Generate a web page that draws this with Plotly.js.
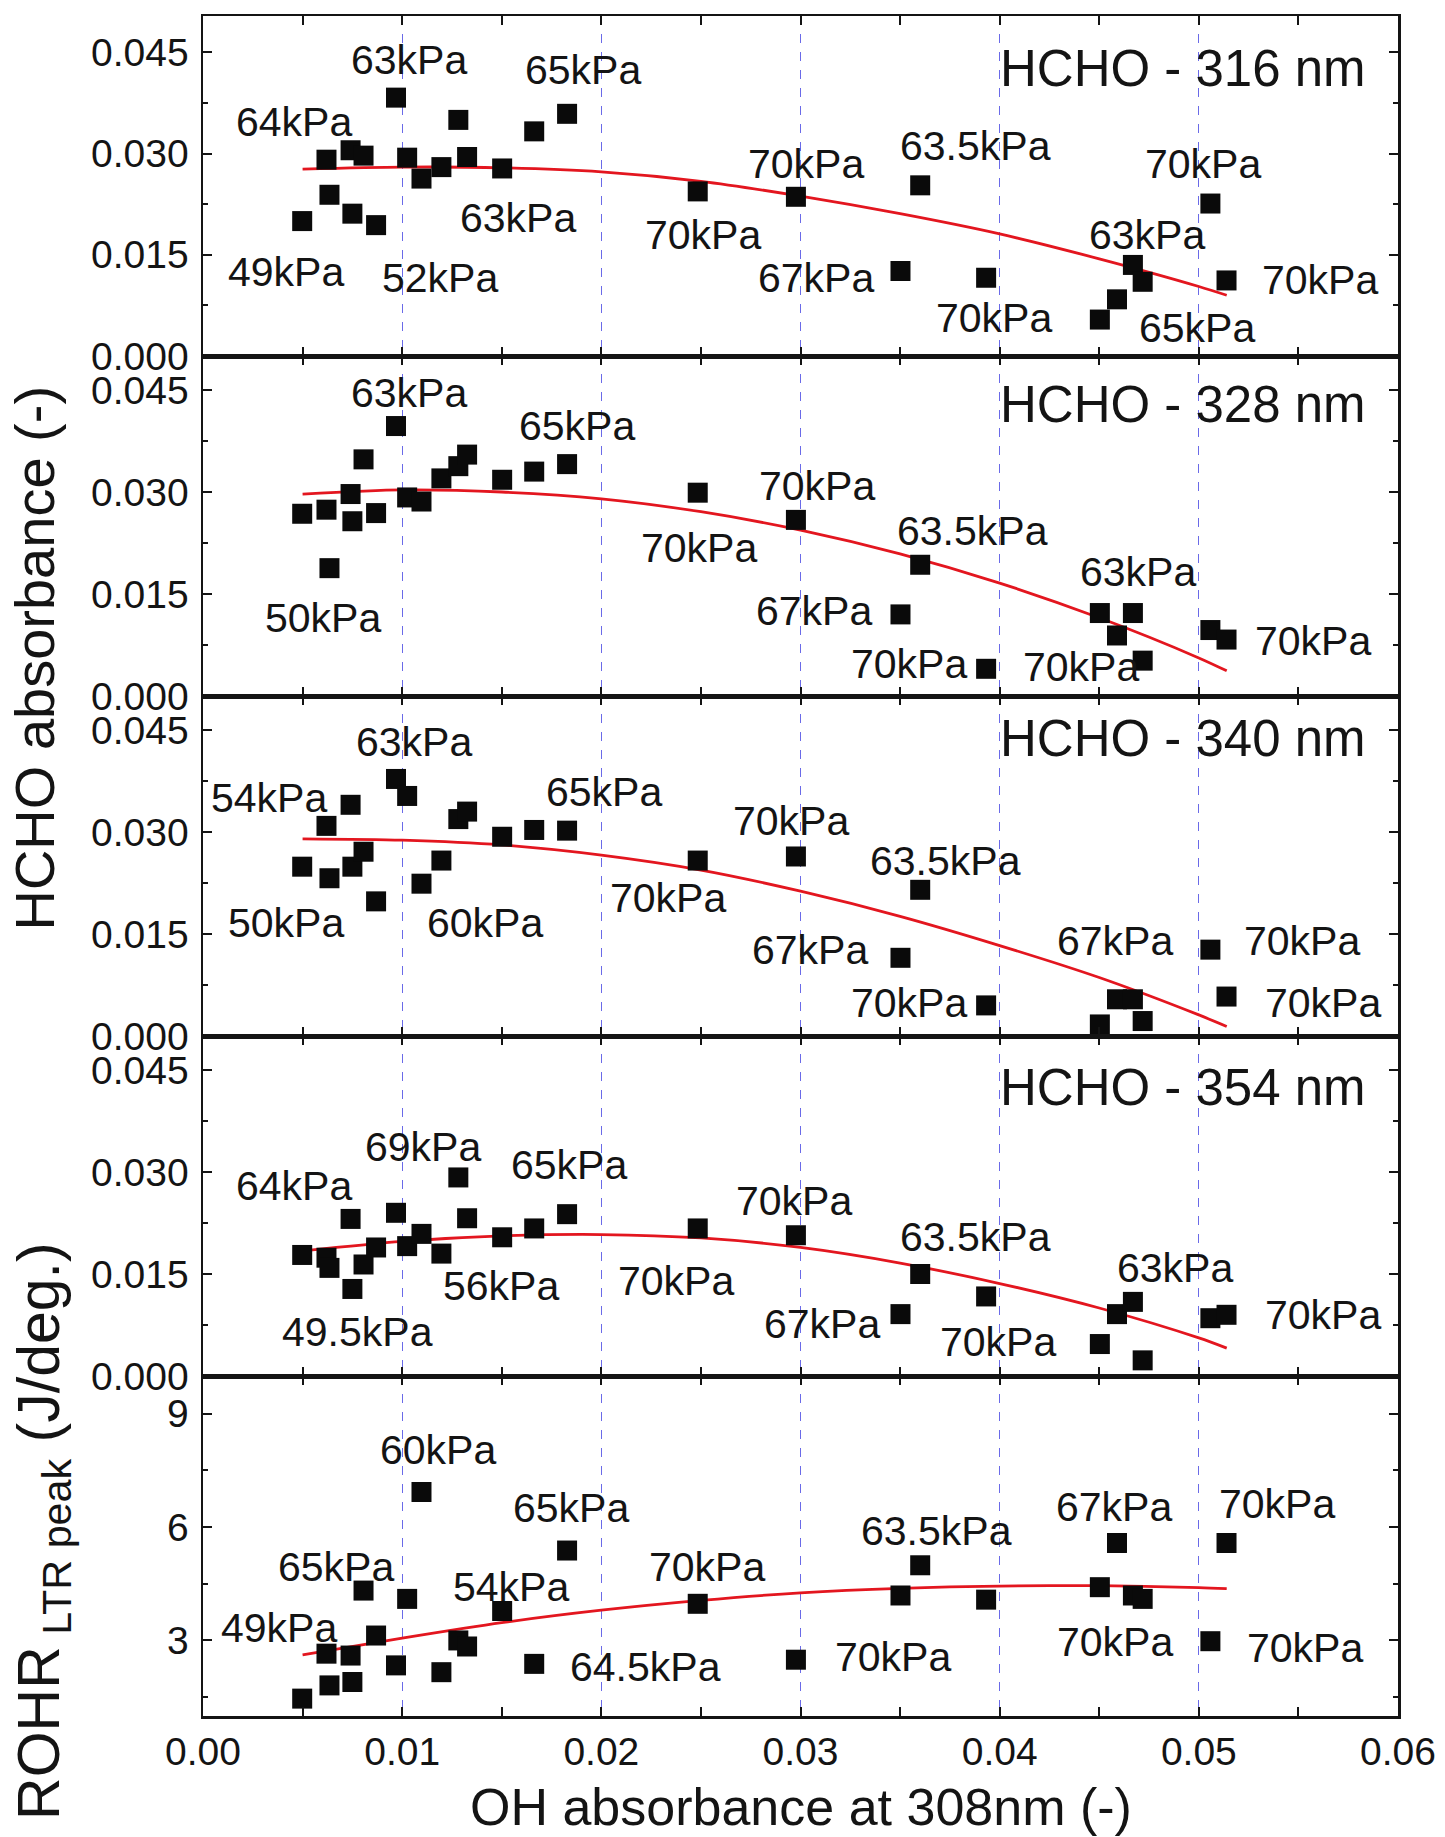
<!DOCTYPE html>
<html><head><meta charset="utf-8">
<script src="https://cdn.plot.ly/plotly-3.0.1.min.js"></script>
<style>html,body{margin:0;padding:0;background:#fff}#chart{width:1445px;height:1837px}</style>
</head><body><div id="chart"></div>
<script>
// ---- data ----
const ohAbsorbance = [0.00498, 0.00620, 0.00635, 0.00741, 0.00750, 0.00806, 0.00869, 0.00969, 0.01025, 0.01097,
  0.01197, 0.01282, 0.01326, 0.01502, 0.01663, 0.01828, 0.02484, 0.02977, 0.03502, 0.03601,
  0.03932, 0.04503, 0.04589, 0.04669, 0.04718, 0.05058, 0.05139];
const hcho316 = [0.0200, 0.0291, 0.0239, 0.0305, 0.0211, 0.0297, 0.0194, 0.0383, 0.0294, 0.0263,
  0.0280, 0.0350, 0.0295, 0.0278, 0.0333, 0.0359, 0.0244, 0.0236, 0.0126, 0.0253,
  0.0116, 0.0054, 0.0084, 0.0135, 0.0110, 0.0226, 0.0112];
const hcho328 = [0.0268, 0.0274, 0.0188, 0.0297, 0.0257, 0.0348, 0.0269, 0.0397, 0.0292, 0.0286,
  0.0320, 0.0338, 0.0355, 0.0318, 0.0330, 0.0341, 0.0299, 0.0259, 0.0120, 0.0193,
  0.0040, 0.0122, 0.0089, 0.0122, 0.0052, 0.0097, 0.0083];
const hcho340 = [0.0249, 0.0309, 0.0232, 0.0340, 0.0249, 0.0271, 0.0198, 0.0378, 0.0353, 0.0224,
  0.0258, 0.0319, 0.0330, 0.0293, 0.0303, 0.0302, 0.0258, 0.0264, 0.0115, 0.0215,
  0.0045, 0.0017, 0.0054, 0.0054, 0.0022, 0.0127, 0.0058];
const hcho354 = [0.0178, 0.0174, 0.0159, 0.0231, 0.0128, 0.0164, 0.0189, 0.0240, 0.0191, 0.0209,
  0.0180, 0.0292, 0.0232, 0.0204, 0.0217, 0.0238, 0.0217, 0.0207, 0.0091, 0.0150,
  0.0117, 0.0047, 0.0091, 0.0109, 0.0023, 0.0085, 0.0090];
const rohrPeak = [1.46, 2.65, 1.81, 2.60, 1.90, 4.32, 3.13, 2.34, 4.10, 6.93,
  2.16, 3.00, 2.84, 3.78, 2.38, 5.38, 3.97, 2.49, 4.19, 4.99,
  4.08, 4.41, 5.58, 4.19, 4.10, 2.98, 5.58];

// fitted curves, read at these OH absorbance values
const fitX = [0.005, 0.010, 0.015, 0.020, 0.025, 0.030, 0.035, 0.040, 0.045, 0.050, 0.0514];
const fit316 = [0.0277, 0.0280, 0.0279, 0.0273, 0.0259, 0.0237, 0.0211, 0.0181, 0.0144, 0.0103, 0.0090];
const fit328 = [0.0297, 0.0303, 0.0300, 0.0290, 0.0271, 0.0244, 0.0209, 0.0166, 0.0115, 0.0056, 0.0037];
const fit340 = [0.0290, 0.0288, 0.0281, 0.0266, 0.0244, 0.0213, 0.0176, 0.0133, 0.0086, 0.0031, 0.0014];
const fit354 = [0.0184, 0.0198, 0.0206, 0.0208, 0.0203, 0.0189, 0.0166, 0.0136, 0.0100, 0.0056, 0.0041];
const fitRohr = [2.62, 3.06, 3.47, 3.80, 4.06, 4.26, 4.38, 4.44, 4.45, 4.40, 4.37];

const panelTitles = ['HCHO - 316 nm', 'HCHO - 328 nm', 'HCHO - 340 nm', 'HCHO - 354 nm'];
const xTickFormat = '.2f';

// pressure labels per panel
const labels316 = ['63kPa','65kPa','64kPa','63kPa','70kPa','49kPa','52kPa','70kPa','63.5kPa','70kPa','63kPa','67kPa','70kPa','70kPa','65kPa'];
const labels328 = ['63kPa','65kPa','50kPa','70kPa','70kPa','63.5kPa','63kPa','67kPa','70kPa','70kPa','70kPa'];
const labels340 = ['63kPa','54kPa','65kPa','50kPa','60kPa','70kPa','70kPa','63.5kPa','67kPa','70kPa','67kPa','70kPa','70kPa'];
const labels354 = ['69kPa','65kPa','64kPa','56kPa','49.5kPa','70kPa','70kPa','63.5kPa','63kPa','67kPa','70kPa','70kPa'];
const labelsRohr = ['60kPa','65kPa','65kPa','54kPa','49kPa','64.5kPa','70kPa','70kPa','63.5kPa','67kPa','70kPa','70kPa','70kPa'];

// ---- placement of the labels (data coordinates of text centre) ----
const place316 = [[0.01034,0.0439],[0.01908,0.0424],[0.00459,0.0347],[0.01583,0.0205],[0.0251,0.0179],[0.00417,0.0124],[0.01188,0.0115],
  [0.03028,0.0285],[0.03879,0.0311],[0.05023,0.0285],[0.04741,0.0180],[0.03076,0.0115],[0.05608,0.0112],[0.03971,0.0057],[0.04993,0.0042]];
const place328 = [[0.01034,0.0446],[0.01876,0.0397],[0.00601,0.0115],[0.0249,0.0217],[0.03081,0.0309],[0.03862,0.0243],[0.04695,0.0182],
  [0.03069,0.0125],[0.03543,0.0047],[0.04410,0.0042],[0.05573,0.0081]];
const place340 = [[0.01057,0.0433],['L',0.0350],[0.02014,0.0359],[0.00417,0.0166],[0.01417,0.0166],[0.02336,0.0203],[0.02954,0.0316],
  [0.03728,0.0258],[0.03046,0.0127],[0.03543,0.0049],[0.04579,0.0140],[0.05520,0.0140],[0.05624,0.0049]];
const place354 = [[0.01106,0.0337],[0.01839,0.0310],[0.00459,0.0280],[0.01495,0.0133],[0.00775,0.0064],[0.02376,0.0140],[0.02965,0.0258],
  [0.03879,0.0205],[0.04880,0.0159],[0.03109,0.0076],[0.03994,0.0050],[0.05624,0.0089]];
const placeRohr = [[0.01181,8.05],[0.01846,6.50],[0.00670,4.94],[0.01548,4.41],[0.00383,3.34],[0.0222,2.31],[0.0253,4.94],
  [0.03462,2.56],[0.03682,5.91],[0.04572,6.53],[0.05393,6.62],[0.04579,2.95],[0.05532,2.80]];

const FONT = '"Liberation Sans", Arial, sans-serif';
const INK = '#141414';
const LABEL_SIZE = 41;

const panels = [
  {y: hcho316, fit: fit316, labels: labels316, place: place316, title: panelTitles[0], range: [0, 0.0504], dtick: 0.015, fmt: '.3f', ty: 0.0426},
  {y: hcho328, fit: fit328, labels: labels328, place: place328, title: panelTitles[1], range: [0, 0.050], dtick: 0.015, fmt: '.3f', ty: 0.0429},
  {y: hcho340, fit: fit340, labels: labels340, place: place340, title: panelTitles[2], range: [0, 0.050], dtick: 0.015, fmt: '.3f', ty: 0.0437},
  {y: hcho354, fit: fit354, labels: labels354, place: place354, title: panelTitles[3], range: [0, 0.050], dtick: 0.015, fmt: '.3f', ty: 0.0424},
  {y: rohrPeak, fit: fitRohr, labels: labelsRohr, place: placeRohr, title: null, range: [1, 10], dtick: 3, fmt: 'd', ty: null}
];

const traces = [];
const annotations = [];
const layout = {
  width: 1445, height: 1837,
  margin: {l: 203, r: 47, t: 16, b: 121},
  paper_bgcolor: '#ffffff', plot_bgcolor: '#ffffff',
  showlegend: false,
  font: {family: FONT, color: INK, size: 39},
  annotations: annotations
};

panels.forEach((p, i) => {
  const k = i + 1;
  const xa = k === 1 ? 'x' : 'x' + k;
  const ya = k === 1 ? 'y' : 'y' + k;
  const xKey = k === 1 ? 'xaxis' : 'xaxis' + k;
  const yKey = k === 1 ? 'yaxis' : 'yaxis' + k;
  layout[xKey] = {
    domain: [0, 1], anchor: ya, range: [0, 0.06], tick0: 0, dtick: 0.01,
    ticks: 'inside', ticklen: 9, tickwidth: 2, tickcolor: INK,
    showline: true, linecolor: INK, linewidth: 2.5, mirror: 'ticks',
    showgrid: true, gridcolor: '#6a6ae8', gridwidth: 1.3, griddash: 'dash',
    zeroline: false, showticklabels: k === 5, tickformat: xTickFormat,
    tickfont: {family: FONT, size: 39, color: INK}, ticklabelstandoff: 0,
    minor: {dtick: 0.005, ticks: 'inside', ticklen: 9, tickwidth: 2, tickcolor: INK, showgrid: false}
  };
  if (k > 1) layout[xKey].matches = 'x';
  layout[yKey] = {
    domain: [(5 - k) * 0.2, (6 - k) * 0.2], anchor: xa, range: p.range, tick0: 0, dtick: p.dtick,
    ticks: 'inside', ticklen: 9, tickwidth: 2, tickcolor: INK,
    showline: true, linecolor: INK, linewidth: 2.5, mirror: 'ticks',
    showgrid: false, zeroline: false, tickformat: p.fmt,
    tickfont: {family: FONT, size: 39, color: INK}, ticklabelstandoff: 4,
    minor: {dtick: p.dtick / 2, ticks: 'inside', ticklen: 5, tickwidth: 2, tickcolor: INK, showgrid: false}
  };
  traces.push({
    type: 'scatter', mode: 'lines', x: fitX, y: p.fit, xaxis: xa, yaxis: ya,
    line: {color: '#e3161f', width: 2.8, shape: 'spline', smoothing: 0.8}, hoverinfo: 'skip'
  });
  traces.push({
    type: 'scatter', mode: 'markers', x: ohAbsorbance, y: p.y, xaxis: xa, yaxis: ya,
    marker: {symbol: 'square', size: 20, color: '#0a0a0a', line: {width: 0}}, cliponaxis: false
  });
  p.labels.forEach((t, j) => {
    const pos = p.place[j];
    const leftEdge = pos[0] === 'L';
    annotations.push({
      xref: xa, yref: ya, x: leftEdge ? 0.0003 : pos[0], y: pos[1], text: t, showarrow: false,
      xanchor: leftEdge ? 'left' : 'center', yanchor: 'middle',
      font: {family: FONT, size: LABEL_SIZE, color: INK}
    });
  });
  if (p.title) {
    annotations.push({
      xref: xa, yref: ya, x: 0.0585, y: p.ty, text: p.title, showarrow: false,
      xanchor: 'right', yanchor: 'middle', font: {family: FONT, size: 51, color: INK}
    });
  }
});

annotations.push({
  xref: 'paper', yref: 'paper', x: -0.1406, y: 0.6226, text: 'HCHO absorbance (-)', textangle: -90,
  showarrow: false, xanchor: 'center', yanchor: 'middle', font: {family: FONT, size: 56, color: INK}
});
annotations.push({
  xref: 'paper', yref: 'paper', x: -0.1345, y: 0.109, text: 'ROHR<sub> LTR peak</sub> (J/deg.)', textangle: -90,
  showarrow: false, xanchor: 'center', yanchor: 'middle', font: {family: FONT, size: 59, color: INK}
});
annotations.push({
  xref: 'paper', yref: 'paper', x: 0.5, y: -0.0535, text: 'OH absorbance at 308nm (-)',
  showarrow: false, xanchor: 'center', yanchor: 'middle', font: {family: FONT, size: 52, color: INK}
});

Plotly.newPlot('chart', traces, layout, {staticPlot: true, displayModeBar: false});
</script>
</body></html>
